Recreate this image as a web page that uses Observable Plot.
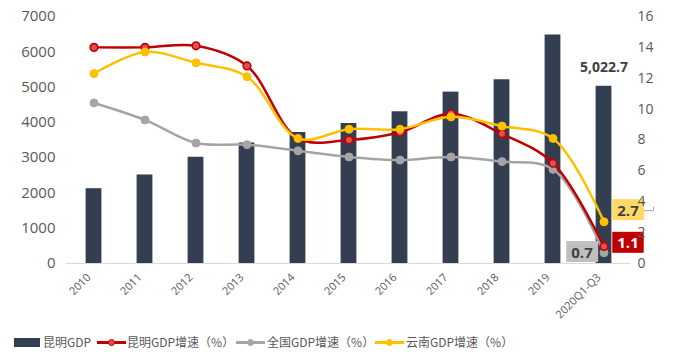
<!DOCTYPE html>
<html><head><meta charset="utf-8">
<script src="https://cdn.jsdelivr.net/npm/d3@7"></script>
<script src="https://cdn.jsdelivr.net/npm/@observablehq/plot@0.6"></script>
<style>
body{margin:0;background:#fff;font-family:"Open Sans","Noto Sans CJK SC",sans-serif;}
#chart{position:relative;width:673px;height:361px;overflow:hidden;}
#chart svg{position:absolute;left:0;top:0;}
.lg{position:absolute;font-family:"Noto Sans CJK SC","Noto Sans",sans-serif;font-size:12px;color:#595959;line-height:16px;top:334px;white-space:nowrap;}
.sw{position:absolute;}
</style></head>
<body><div id="chart"></div>
<script>
const categories = ["2010","2011","2012","2013","2014","2015","2016","2017","2018","2019","2020Q1-Q3"];
const kunmingGDP = [2120, 2509, 3011, 3415, 3713, 3968, 4300, 4857, 5207, 6476, 5022.7];
const kunmingGrowth = [14.0, 14.0, 14.1, 12.8, 8.1, 8.0, 8.5, 9.7, 8.4, 6.5, 1.1];
const nationalGrowth = [10.4, 9.3, 7.8, 7.7, 7.3, 6.9, 6.7, 6.9, 6.6, 6.1, 0.7];
const yunnanGrowth = [12.3, 13.7, 13.0, 12.1, 8.1, 8.7, 8.7, 9.5, 8.9, 8.1, 2.7];
const leftTicks = [0, 1000, 2000, 3000, 4000, 5000, 6000, 7000];
const rightTicks = [0, 2, 4, 6, 8, 10, 12, 14, 16];
const seriesNames = ["昆明GDP", "昆明GDP增速（%）", "全国GDP增速（%）", "云南GDP增速（%）"];

const R = 7000 / 16;
const rows = categories.map((c, i) => ({cat: c, gdp: kunmingGDP[i], km: kunmingGrowth[i], cn: nationalGrowth[i], yn: yunnanGrowth[i]}));
const last = [rows[rows.length - 1]];
const W = 673, H = 322, AX = 263;
const C = {bar: "#333F50", km: "#C00000", cn: "#A5A5A5", yn: "#FFC000"};
const font = "'Open Sans','Noto Sans CJK SC',sans-serif";

const chart = Plot.plot({
  width: W, height: H,
  marginLeft: 66, marginRight: 43, marginTop: 16, marginBottom: H - AX,
  style: {fontFamily: font, fontSize: "14px", color: "#595959", background: "transparent", overflow: "visible"},
  x: {type: "band", domain: categories, padding: 0},
  y: {domain: [0, 7000]},
  marks: [
    Plot.axisY({ticks: leftTicks, tickSize: 0, tickPadding: 11, label: null, fontSize: 15, tickFormat: d => String(d)}),
    Plot.axisX({tickSize: 0, tickRotate: -45, tickPadding: 12, dx: -5, label: null, fontSize: 11}),
    Plot.barY(rows, {x: "cat", y: "gdp", fill: C.bar, insetLeft: 17.6, insetRight: 17.6}),
    Plot.ruleY([0], {stroke: "#d9d9d9", strokeWidth: 1}),
    Plot.line(rows, {x: "cat", y: d => d.cn * R, stroke: C.cn, strokeWidth: 2.5, curve: "catmull-rom"}),
    Plot.dot(rows, {x: "cat", y: d => d.cn * R, r: 4, fill: C.cn, stroke: C.cn, strokeWidth: 1}),
    Plot.line(rows, {x: "cat", y: d => d.km * R, stroke: C.km, strokeWidth: 2.5, curve: "catmull-rom"}),
    Plot.dot(rows, {x: "cat", y: d => d.km * R, r: 3.8, fill: "#E05050", stroke: C.km, strokeWidth: 1.6}),
    Plot.line(rows, {x: "cat", y: d => d.yn * R, stroke: C.yn, strokeWidth: 2.5, curve: "catmull-rom"}),
    Plot.dot(rows, {x: "cat", y: d => d.yn * R, r: 4, fill: C.yn, stroke: C.yn, strokeWidth: 1}),
    Plot.text(last, {x: "cat", y: "gdp", text: d => d3.format(",.1f")(d.gdp), dy: -19, fontWeight: "bold", fontSize: 14, fill: "#404040"}),
    Plot.text(last, {x: "cat", y: d => d.yn * R, text: d => d.yn.toFixed(1), dx: 24, dy: -11, fontWeight: "bold", fontSize: 15, fill: "#404040"}),
    Plot.text(last, {x: "cat", y: d => d.km * R, text: d => d.km.toFixed(1), dx: 24, dy: -3, fontWeight: "bold", fontSize: 15, fill: "#ffffff"}),
    Plot.text(last, {x: "cat", y: d => d.cn * R, text: d => d.cn.toFixed(1), dx: -22, dy: 0, fontWeight: "bold", fontSize: 15, fill: "#404040"}),
    Plot.axisY({anchor: "right", ticks: rightTicks.map(v => v * R), tickFormat: v => String(Math.round(v / R)), tickSize: 0, tickPadding: 7, label: null, fontSize: 14})
  ]
});

const host = document.getElementById("chart");
host.appendChild(chart);

// background boxes behind the value labels
const d = last[0];
const boxColors = new Map([[d.yn.toFixed(1), ["#FFD966", true]], [d.km.toFixed(1), [C.km, false]], [d.cn.toFixed(1), ["#BFBFBF", false]]]);
const ns = "http://www.w3.org/2000/svg";
chart.querySelectorAll('g[aria-label="text"] text').forEach(t => {
  const key = t.textContent;
  if (!boxColors.has(key)) return;
  const [col, leader] = boxColors.get(key);
  const b = t.getBBox();
  const r = document.createElementNS(ns, "rect");
  r.setAttribute("x", b.x - 5); r.setAttribute("y", b.y - 0.5);
  r.setAttribute("width", b.width + 10); r.setAttribute("height", b.height + 1);
  r.setAttribute("fill", col);
  const tr = t.getAttribute("transform");
  if (tr) r.setAttribute("transform", tr);
  t.parentNode.insertBefore(r, t);
  if (leader) {
    const xs = chart.scale("x"), ys = chart.scale("y");
    const px = xs.apply(d.cat) + xs.bandwidth / 2;
    const py = ys.apply(d.yn * R);
    const m = tr ? tr.match(/translate\(\s*([-\d.]+)[ ,]+([-\d.]+)\s*\)/) : null;
    const ox = m ? +m[1] : 0, oy = m ? +m[2] : 0;
    const lx = ox + b.x - 5, ly = oy + b.y + b.height / 2 + 1;
    const p = document.createElementNS(ns, "path");
    p.setAttribute("d", `M${lx},${ly}H${px}V${py - 4}`);
    p.setAttribute("stroke", "#A6A6A6"); p.setAttribute("fill", "none"); p.setAttribute("stroke-width", 1);
    t.parentNode.insertBefore(p, r);
  }
});

// legend
const legend = [
  {name: seriesNames[0], type: "bar", color: C.bar, x: 14, tx: 43},
  {name: seriesNames[1], type: "line", color: C.km, fill: "#E05050", x: 97, tx: 127},
  {name: seriesNames[2], type: "line", color: C.cn, fill: C.cn, x: 236, tx: 267},
  {name: seriesNames[3], type: "line", color: C.yn, fill: C.yn, x: 375, tx: 406}
];
for (const it of legend) {
  if (it.type === "bar") {
    const s = document.createElement("div"); s.className = "sw";
    Object.assign(s.style, {left: it.x + "px", top: "338px", width: "26px", height: "9px", background: it.color});
    host.appendChild(s);
  } else {
    const l = document.createElement("div"); l.className = "sw";
    Object.assign(l.style, {left: it.x + "px", top: "341px", width: "29px", height: "2.5px", background: it.color});
    host.appendChild(l);
    const c = document.createElement("div"); c.className = "sw";
    Object.assign(c.style, {left: (it.x + 10.5) + "px", top: "338.5px", width: "5px", height: "5px", borderRadius: "50%", background: it.fill, border: "1.5px solid " + it.color});
    host.appendChild(c);
  }
  const t = document.createElement("div"); t.className = "lg";
  t.style.left = it.tx + "px"; t.textContent = it.name;
  host.appendChild(t);
}
</script>
</body></html>
